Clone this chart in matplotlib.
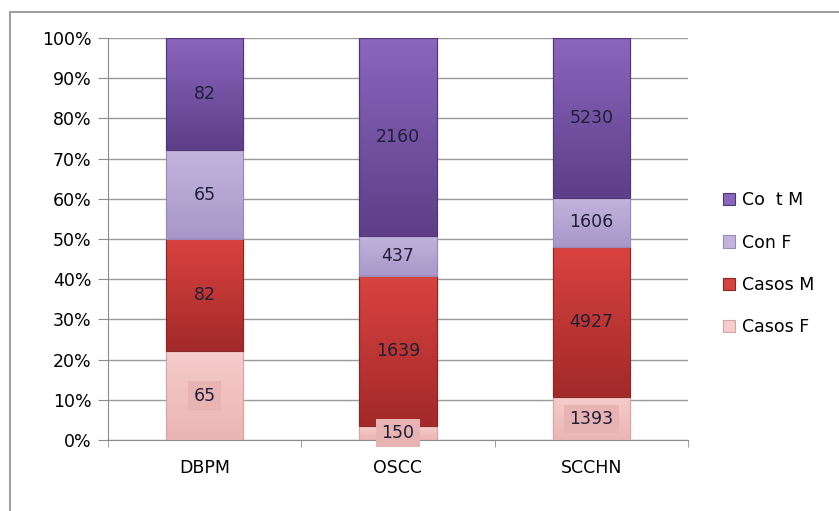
import numpy as np
import matplotlib.pyplot as plt
from matplotlib.patches import Rectangle
from matplotlib.colors import LinearSegmentedColormap

# data
categorias = ['DBPM', 'OSCC', 'SCCHN']
casos_f = [65, 150, 1393]
casos_m = [82, 1639, 4927]
con_f = [65, 437, 1606]
cont_m = [82, 2160, 5230]
series_names = ['Casos F', 'Casos M', 'Con F', 'Co  t M']
# (bottom colour, top colour) of each gradient
grad = [('#ebb4b4', '#f6cccc'), ('#a3292a', '#d9433f'),
        ('#a897c8', '#c2b4dd'), ('#5e3e88', '#8a66bd')]
bordes = ['#d9a3a3', '#8c2526', '#9a89bb', '#523578']

plt.rcParams['font.family'] = ['DejaVu Sans']
fs = 12.5

fig = plt.figure(figsize=(8.39, 5.11), dpi=100)
# chart frame (Excel style)
fig.patches.append(Rectangle((10/839, -0.1), 1.2, 1.1 - 12/511, transform=fig.transFigure,
                             fill=False, edgecolor='#8c8c8c', linewidth=1.2))
ax = fig.add_axes([108/839, 71/511, 580/839, 402/511])

datos = np.array([casos_f, casos_m, con_f, cont_m], dtype=float)
totales = datos.sum(axis=0)
pct = datos / totales * 100
x = np.arange(len(categorias))
ancho = 0.4
g = np.linspace(0, 1, 64).reshape(-1, 1)

base = np.zeros(len(categorias))
for i in range(len(series_names)):
    cmap = LinearSegmentedColormap.from_list('g%d' % i, grad[i])
    bars = ax.bar(x, pct[i], ancho, bottom=base, color=grad[i][1], edgecolor=bordes[i],
                  linewidth=0.8, label=series_names[i], zorder=3)
    for j, b in enumerate(bars):
        x0, y0 = b.get_x(), b.get_y()
        im = ax.imshow(g, cmap=cmap, origin='lower', aspect='auto', zorder=3.5,
                       extent=[x0, x0 + b.get_width(), y0, y0 + b.get_height()])
        im.set_clip_path(b)
        ax.add_patch(Rectangle((x0, y0), b.get_width(), b.get_height(), fill=False,
                               edgecolor=bordes[i], linewidth=0.8, zorder=3.6))
        yc = base[j] + pct[i][j] / 2
        if i == 0:
            yc = max(yc, 1.5)
            ax.text(x[j], yc, str(int(datos[i][j])), ha='center', va='center',
                    fontsize=fs, color='#1f1f38', zorder=5,
                    bbox=dict(boxstyle='square,pad=0.3', fc='#e8b3b3', ec='none'))
        else:
            ax.text(x[j], yc, str(int(datos[i][j])), ha='center', va='center',
                    fontsize=fs, color='#1f1f38', zorder=5)
    base = base + pct[i]

ax.set_xlim(-0.5, len(categorias) - 0.5)
ax.set_ylim(0, 100)
ax.set_yticks(np.arange(0, 101, 10))
ax.set_yticklabels([f'{v}%' for v in range(0, 101, 10)], fontsize=fs)
ax.set_xticks(x)
ax.set_xticklabels(categorias, fontsize=fs)
ax.set_xticks(np.arange(-0.5, len(categorias), 1), minor=True)
ax.tick_params(axis='x', which='major', length=0, pad=14)
ax.tick_params(axis='x', which='minor', length=5, color='#8c8c8c', direction='out')
ax.tick_params(axis='y', length=7, color='#8c8c8c', direction='out', pad=5)
ax.grid(axis='y', color='#9a9a9a', linewidth=1, zorder=0)
for s in ['top', 'right']:
    ax.spines[s].set_visible(False)
for s in ['left', 'bottom']:
    ax.spines[s].set_color('#8c8c8c')

handles, labels = ax.get_legend_handles_labels()
fig.legend(handles[::-1], labels[::-1], loc='center left', bbox_to_anchor=(707/839, 0.484),
           frameon=False, fontsize=fs, labelspacing=1.4, handlelength=0.7,
           handleheight=0.7, handletextpad=0.4)

plt.savefig('out.png', dpi=100)
